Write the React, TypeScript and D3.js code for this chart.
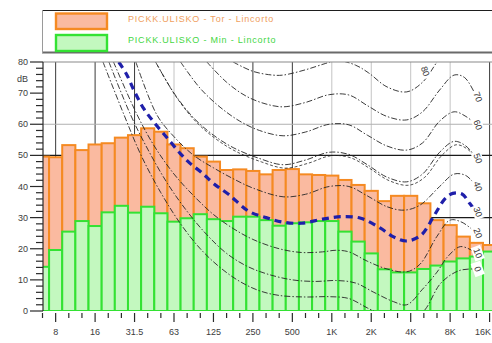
import React from 'react';
import * as d3 from 'd3';

// One-third-octave bands, 6.3 Hz .. 16 kHz
const bandLabels = ['6.3', '8', '10', '12.5', '16', '20', '25', '31.5', '40', '50', '63', '80', '100', '125', '160', '200', '250', '315', '400', '500', '630', '800', '1K', '1.25K', '1.6K', '2K', '2.5K', '3.15K', '4K', '5K', '6.3K', '8K', '10K', '12.5K', '16K'];

// Max (orange) and min (green) levels per band, dB
const maxLevels = [49.6, 49.4, 53.3, 51.7, 53.5, 53.9, 55.7, 56.5, 58.7, 57.6, 53.5, 52.3, 49.6, 48.0, 45.3, 45.5, 45.0, 43.9, 45.3, 45.6, 43.9, 43.7, 43.5, 42.1, 40.5, 38.6, 35.3, 37.0, 37.0, 34.6, 29.2, 27.6, 23.9, 21.9, 21.2];
const minLevels = [14.2, 19.6, 25.5, 28.9, 27.3, 31.7, 33.8, 31.6, 33.5, 31.4, 28.7, 29.8, 31.1, 29.5, 28.9, 30.3, 30.3, 29.2, 27.4, 28.2, 28.5, 28.9, 28.9, 25.5, 22.3, 18.5, 13.4, 12.4, 12.4, 13.5, 14.6, 15.9, 16.9, 17.5, 19.1];

// Octave tick labels and the band index they sit on
const octaveLabels = ['8', '16', '31.5', '63', '125', '250', '500', '1K', '2K', '4K', '8K', '16K'];
const octaveBands = [1, 4, 7, 10, 13, 16, 19, 22, 25, 28, 31, 34];
const darkGridBands = [1, 4, 7, 16, 19, 34];
const lightGridBands = [10, 13, 22, 25, 28, 31];
const darkGridLevels = [50, 30];
const lightGridLevels = [60];
const levelTicks = [0, 10, 20, 30, 40, 50, 60, 70, 80];

// Loudness contours: [band position, dB]
const contour80: [number, number][] = [[14.5, 80], [16, 77], [17.5, 75.8], [18.3, 75.8], [20, 77.5], [21.5, 79.5], [22.4, 80.5], [23.8, 79], [24.8, 76.5], [26.2, 72], [27.7, 70.4], [28.9, 73.5], [30, 80], [30.7, 84]];
const contour70: [number, number][] = [[12.5, 80], [14, 73.5], [15.5, 69], [17, 66.5], [18.3, 65.6], [20, 67], [21.8, 69.5], [23.3, 69.4], [24.7, 66], [26.2, 62.5], [27.7, 61.4], [28.9, 64], [30.2, 71], [31.3, 75.8], [32.1, 75], [33.0, 68.8]];
const contour60: [number, number][] = [[10.5, 80], [12, 71.5], [13.5, 65.5], [15, 61], [16.5, 58], [18.3, 56.3], [20, 57.5], [21.8, 60], [23.3, 59.8], [24.7, 56.5], [26.2, 53], [27.7, 51.7], [28.9, 54], [30.2, 61], [31.3, 64], [32.2, 62.5], [33.0, 59.8]];
const contour50: [number, number][] = [[8.6, 80], [10, 70], [11.5, 62], [13, 56.5], [14.5, 52.5], [16.5, 49], [18.3, 47], [20, 48.5], [21.8, 51], [23.3, 50.3], [24.7, 47], [26.2, 43], [27.7, 41.5], [28.9, 44], [30.2, 51], [31.3, 54.5], [32.2, 53], [33.0, 49]];
const contour40: [number, number][] = [[7.1, 80], [8.7, 63], [10, 56], [11.5, 50], [13, 46], [14.5, 42.5], [16, 39.5], [18.3, 36.7], [20, 37.5], [21.8, 40], [23.3, 40], [24.7, 37], [26.2, 33.5], [27.5, 32.4], [28.7, 34], [30.2, 40], [31.3, 44], [32.2, 43.5], [33.0, 40]];
const contour30: [number, number][] = [[5.8, 80], [6.4, 76], [7.0, 70.5], [7.7, 65], [8.5, 60.5], [9.5, 55.5], [10.5, 50.5], [11.2, 47.5], [12.1, 44.5], [13, 41], [14.2, 37.3], [15.7, 32], [17, 30], [18.2, 28.6], [19.7, 28.2], [21.3, 29.5], [22.7, 30.3], [24.2, 29.8], [25.7, 26.6], [26.7, 23.8], [27.7, 22.5], [28.8, 24.4], [29.8, 30.8], [30.6, 36], [31.2, 37.8], [31.9, 37.6], [32.5, 34.5], [33.0, 31.8]];
const contour20: [number, number][] = [[5.4, 80], [7.2, 63], [8.5, 53], [10, 44], [11.5, 37], [13, 31], [14.5, 26.5], [16, 23], [18, 20], [19.7, 18.8], [21.3, 19], [22.3, 19.5], [23.3, 19], [24.7, 16], [26.2, 13.5], [27.7, 12.6], [28.7, 15], [30, 24], [31.0, 29.2], [31.9, 28.5], [33.0, 25]];
const contour10: [number, number][] = [[5.05, 80], [6.7, 63], [8, 52], [9.5, 41], [11, 32], [12.5, 24.5], [14, 18.5], [15.5, 14.5], [17, 12], [19, 10], [20.8, 9.5], [22.3, 9.8], [23.8, 9], [25.2, 6], [26.7, 3], [27.7, 2], [28.9, 7], [30, 12.5], [30.8, 17.4], [31.8, 20.7], [33.0, 18.6]];
const contour0: [number, number][] = [[4.6, 80], [6.2, 63], [7.5, 50], [9, 38], [10.5, 28], [12, 20], [13.5, 14], [15, 9.5], [16.5, 6.5], [18, 5], [20, 4.5], [21.8, 4.6], [23.3, 4], [24.7, 1], [26.2, -2], [27.7, -3.5], [29.0, 0], [30.3, 9], [31.7, 13], [33.0, 13.5]];

const contourLabels = ['80', '70', '60', '50', '40', '30', '20', '10', '0'];
const contourLabelAt: [number, number][] = [[29.1, 77], [33.1, 68.8], [33.1, 59.8], [33.1, 49], [33.1, 40], [33.1, 31.8], [33.1, 25], [33.1, 18.6], [33.1, 13.5]];

const legendLabels = ['PICKK.ULISKO - Tor - Lincorto', 'PICKK.ULISKO - Min - Lincorto'];

const W = 492;
const H = 343;
const plot = { left: 43, right: W, top: 62, bottom: 311 };
const font = '"Liberation Sans", Arial, sans-serif';

const ORANGE = '#f58a22';
const ORANGE_FILL = '#fabaa0';
const GREEN = '#33e233';
const GREEN_FILL = '#c3f8bf';
const BLUE = '#1f1faa';

const bandFreq = (i: number) => 1000 * Math.pow(2, (i - 22) / 3);

export default function App() {
  const x = d3.scaleLog().base(2).domain([bandFreq(0), bandFreq(34)]).range([42.5, 489.6]);
  const y = d3.scaleLinear().domain([0, 80]).range([plot.bottom, plot.top]);
  const xb = (i: number) => x(bandFreq(i));
  const halfBand = (xb(1) - xb(0)) / 2;

  const line = d3
    .line<[number, number]>()
    .x((d) => xb(d[0]))
    .y((d) => y(d[1]))
    .curve(d3.curveCatmullRom.alpha(0.5));

  const blackContours = [contour80, contour70, contour60, contour50, contour40, contour20, contour10, contour0];
  const minorLevels = d3.range(0, 81, 2);

  return (
    <svg
      width={W}
      height={H}
      style={{ position: 'absolute', left: 0, top: 0, background: '#fff' }}
      fontFamily={font}
    >
      <defs>
        <clipPath id="plotClip">
          <rect x={plot.left} y={plot.top} width={plot.right - plot.left} height={plot.bottom - plot.top} />
        </clipPath>
      </defs>
      <rect x={0} y={0} width={W} height={H} fill="#fff" />

      {/* grid */}
      <g>
        {lightGridBands.map((i) => (
          <line key={'lg' + i} x1={xb(i)} x2={xb(i)} y1={plot.top} y2={plot.bottom} stroke="#c4c4c4" strokeWidth={1} />
        ))}
        {darkGridBands.map((i) => (
          <line key={'dg' + i} x1={xb(i)} x2={xb(i)} y1={plot.top} y2={plot.bottom} stroke="#3a3a3a" strokeWidth={1} />
        ))}
        {lightGridLevels.map((v) => (
          <line key={'lh' + v} x1={plot.left} x2={plot.right} y1={y(v)} y2={y(v)} stroke="#b0b0b0" strokeWidth={1} />
        ))}
        {darkGridLevels.map((v) => (
          <line key={'dh' + v} x1={plot.left} x2={plot.right} y1={y(v)} y2={y(v)} stroke="#1a1a1a" strokeWidth={1.3} />
        ))}
      </g>

      {/* bars */}
      <g clipPath="url(#plotClip)">
        {maxLevels.map((v, i) => (
          <rect
            key={'mx' + i}
            x={xb(i) - halfBand}
            y={y(v)}
            width={halfBand * 2}
            height={y(0) - y(v)}
            fill={ORANGE_FILL}
            stroke={ORANGE}
            strokeWidth={2}
          />
        ))}
        {minLevels.map((v, i) => (
          <rect
            key={'mn' + i}
            x={xb(i) - halfBand}
            y={y(v)}
            width={halfBand * 2}
            height={y(0) - y(v)}
            fill={GREEN_FILL}
            stroke={GREEN}
            strokeWidth={2}
          />
        ))}
      </g>

      {/* loudness contours */}
      <g clipPath="url(#plotClip)" fill="none">
        {blackContours.map((c, k) => (
          <path key={'c' + k} d={line(c) || ''} stroke="#262626" strokeWidth={0.9} strokeDasharray="6 2 1.5 2" />
        ))}
        <path
          d={line(contour50.map((p) => [p[0] + 0.15, p[1] - 1.1] as [number, number])) || ''}
          stroke="#262626"
          strokeWidth={0.8}
          strokeDasharray="3 2"
        />
        <path d={line(contour30) || ''} stroke={BLUE} strokeWidth={3.2} strokeDasharray="7 5" />
      </g>

      {/* contour labels */}
      <g>
        {contourLabels.map((t, k) => {
          const p = contourLabelAt[k];
          return (
            <g key={'cl' + k} transform={`translate(${xb(p[0])},${y(p[1])}) rotate(70)`}>
              <rect x={-7} y={-5} width={14} height={10} fill="#fff" />
              <text x={0} y={0} textAnchor="middle" dominantBaseline="central" fontSize={9} fill="#333">
                {t}
              </text>
            </g>
          );
        })}
      </g>

      {/* frame */}
      <line x1={plot.left} x2={plot.right} y1={plot.top} y2={plot.top} stroke="#8a8a8a" strokeWidth={1.2} />
      <line x1={plot.left} x2={plot.left} y1={plot.top} y2={plot.bottom} stroke="#2a2a2a" strokeWidth={1.2} />

      {/* y axis */}
      <g fill="#3c3c3c" fontSize={9}>
        {minorLevels.map((v) => (
          <line
            key={'ym' + v}
            x1={v % 10 === 0 ? 30 : 36}
            x2={plot.left}
            y1={y(v)}
            y2={y(v)}
            stroke="#2a2a2a"
            strokeWidth={1.2}
          />
        ))}
        {levelTicks.map((v) => (
          <text key={'yl' + v} x={28} y={y(v)} textAnchor="end" dominantBaseline="central">
            {v}
          </text>
        ))}
        <text x={28} y={y(74.5)} textAnchor="end" dominantBaseline="central">
          dB
        </text>
      </g>

      {/* x axis */}
      <g fill="#3c3c3c" fontSize={9}>
        {bandLabels.map((b, i) => {
          const major = octaveBands.includes(i);
          return (
            <line
              key={'xt' + b}
              x1={xb(i)}
              x2={xb(i)}
              y1={plot.bottom + 2}
              y2={plot.bottom + (major ? 11 : 7)}
              stroke="#2a2a2a"
              strokeWidth={1.2}
            />
          );
        })}
        {octaveLabels.map((t, k) => {
          const last = k === octaveLabels.length - 1;
          return (
            <text
              key={'xl' + t}
              x={last ? W - 1 : xb(octaveBands[k])}
              y={plot.bottom + 21}
              textAnchor={last ? 'end' : 'middle'}
              dominantBaseline="central"
            >
              {t}
            </text>
          );
        })}
      </g>

      {/* legend */}
      <g>
        <rect x={42} y={10} width={460} height={43} fill="#fff" />
        <line x1={42} x2={W} y1={10.5} y2={10.5} stroke="#1e1e1e" strokeWidth={1.2} />
        <line x1={42} x2={W} y1={52.5} y2={52.5} stroke="#6a6a6a" strokeWidth={2} />
        <line x1={42.5} x2={42.5} y1={10} y2={53} stroke="#9a9a9a" strokeWidth={1} />
        <rect x={56} y={13.5} width={51} height={15.5} fill={ORANGE_FILL} stroke={ORANGE} strokeWidth={2.4} />
        <rect x={56} y={35} width={51} height={16} fill={GREEN_FILL} stroke={GREEN} strokeWidth={2.4} />
        <text x={128} y={19} fontSize={9} fill="#f0a060" dominantBaseline="central" letterSpacing={0.8}>
          {legendLabels[0]}
        </text>
        <text x={128} y={39.5} fontSize={9} fill="#44d644" dominantBaseline="central" letterSpacing={0.8}>
          {legendLabels[1]}
        </text>
      </g>
    </svg>
  );
}
